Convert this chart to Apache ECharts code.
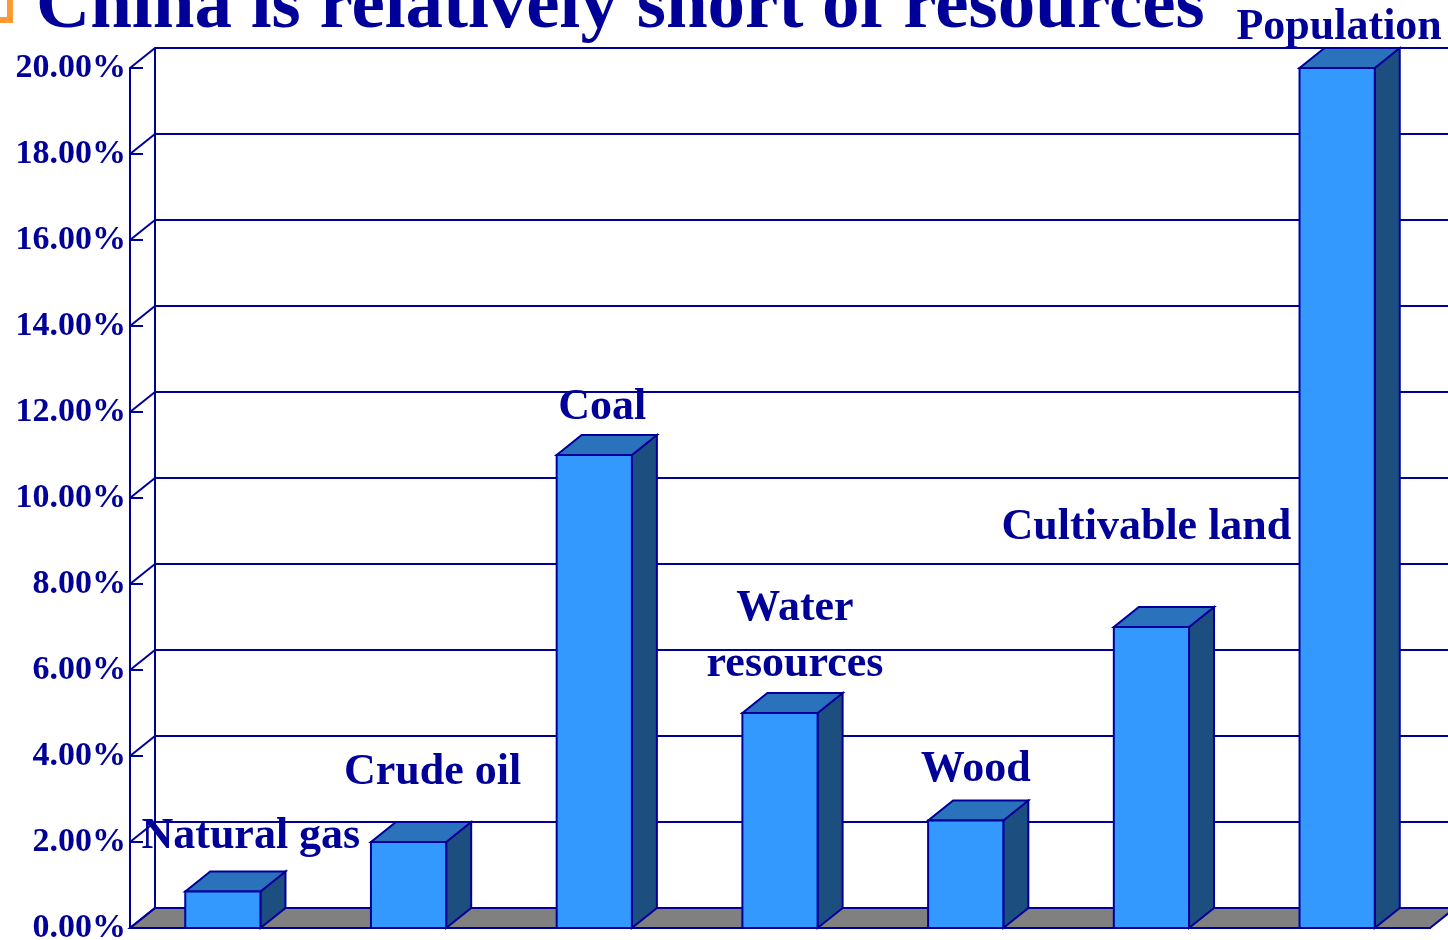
<!DOCTYPE html>
<html>
<head>
<meta charset="utf-8">
<title>China is relatively short of resources</title>
<script src="https://cdn.jsdelivr.net/npm/echarts@6/dist/echarts.min.js"></script>
<style>
  html, body { margin: 0; padding: 0; background: #fff; }
  #chart { width: 1448px; height: 940px; }
</style>
</head>
<body>
<div id="chart"></div>
<script>
// China's share of the world total, in percent
var categories = ['Natural gas', 'Crude oil', 'Coal', 'Water\nresources', 'Wood', 'Cultivable land', 'Population'];
var shares = [0.85, 2.0, 11.0, 5.0, 2.5, 7.0, 20.0];
var yTickValues = [0, 2, 4, 6, 8, 10, 12, 14, 16, 18, 20];

// where each category name sits: [x shift, baseline of last line] relative to the bar top
var labelNudge = [[28, -41], [24, -56], [8, -34], [15, -35], [10, -37], [-5, -86], [2, -27]];

var NAVY = '#000099';
var SERIF = '"Liberation Serif", "Times New Roman", serif';
var DX = 25, DY = -20;          // 3d depth offset
var BAR_RATIO = 0.405;
var LABEL_SIZE = 44, LABEL_LINE = 56;

var chart = echarts.init(document.getElementById('chart'));

function renderFloor(params, api) {
    var cs = params.coordSys;
    var y = api.coord([0, 0])[1];
    var x0 = cs.x, x1 = cs.x + cs.width;
    return {
        type: 'polygon',
        shape: { points: [[x0, y], [x1, y], [x1 + DX, y + DY], [x0 + DX, y + DY]] },
        style: { fill: '#808080', stroke: NAVY, lineWidth: 2 }
    };
}

function renderWallTick(params, api) {
    var cs = params.coordSys;
    var y = api.coord([0, api.value(0)])[1];
    return {
        type: 'line',
        shape: { x1: cs.x, y1: y, x2: cs.x + DX, y2: y + DY },
        style: { stroke: NAVY, lineWidth: 2 }
    };
}

function renderBar(params, api) {
    var idx = api.value(0);
    var base = api.coord([idx, 0]);
    var top = api.coord([idx, api.value(1)]);
    var bw = api.size([1, 0])[0] * BAR_RATIO;
    var x0 = base[0] - bw / 2, x1 = base[0] + bw / 2;
    var y0 = base[1], y1 = top[1];
    var name = categories[idx];
    var lines = name.split('\n').length;
    var nudge = labelNudge[idx];
    var ty = y1 + nudge[1] - 0.305 * LABEL_SIZE - (lines - 1) * LABEL_LINE / 2;
    return {
        type: 'group',
        children: [
            {
                type: 'polygon',
                shape: { points: [[x1, y1], [x1 + DX, y1 + DY], [x1 + DX, y0 + DY], [x1, y0]] },
                style: { fill: '#1d4e80', stroke: NAVY, lineWidth: 2 }
            },
            {
                type: 'polygon',
                shape: { points: [[x0, y1], [x0 + DX, y1 + DY], [x1 + DX, y1 + DY], [x1, y1]] },
                style: { fill: '#2a72bb', stroke: NAVY, lineWidth: 2 }
            },
            {
                type: 'rect',
                shape: { x: x0, y: y1, width: bw, height: y0 - y1 },
                style: { fill: '#3399ff', stroke: NAVY, lineWidth: 2 }
            },
            {
                type: 'text',
                style: {
                    x: base[0] + nudge[0], y: ty,
                    text: name,
                    align: 'center', verticalAlign: 'middle',
                    fontSize: LABEL_SIZE, fontWeight: 'bold', fontFamily: SERIF,
                    lineHeight: LABEL_LINE,
                    fill: NAVY
                }
            }
        ]
    };
}

var option = {
    backgroundColor: '#fff',
    animation: false,
    title: {
        text: 'China is relatively short of resources',
        left: 31,
        top: -35,
        textStyle: { fontSize: 75, fontWeight: 'bold', fontFamily: SERIF, color: NAVY }
    },
    graphic: [{
        type: 'rect',
        shape: { x: -20, y: -20, width: 30, height: 40 },
        style: { fill: 'none', stroke: '#ff9933', lineWidth: 6 }
    }],
    grid: [
        // front plane
        { left: 130, right: 18, top: 68, bottom: 12, outerBoundsMode: 'none' },
        // back wall
        { left: 155, right: 0, top: 48, bottom: 32, outerBoundsMode: 'none' }
    ],
    xAxis: [
        {
            gridIndex: 0, type: 'category', data: categories, z: 3,
            axisLine: { lineStyle: { color: NAVY, width: 2 } },
            axisTick: { inside: true, length: 11, lineStyle: { color: NAVY, width: 2 } },
            axisLabel: { show: false }
        },
        {
            gridIndex: 1, type: 'category', data: categories, show: false
        }
    ],
    yAxis: [
        {
            gridIndex: 0, type: 'value', min: 0, max: 20, interval: 2, z: 3,
            axisLine: { show: true, lineStyle: { color: NAVY, width: 2 } },
            axisTick: { show: true, inside: true, length: 13, lineStyle: { color: NAVY, width: 2 } },
            splitLine: { show: false },
            axisLabel: {
                margin: 4,
                formatter: function (v) { return v.toFixed(2) + '%'; },
                fontSize: 34, fontWeight: 'bold', fontFamily: SERIF, color: NAVY
            }
        },
        {
            gridIndex: 1, type: 'value', min: 0, max: 20, interval: 2,
            axisLine: { show: true, lineStyle: { color: NAVY, width: 2 } },
            axisTick: { show: false },
            axisLabel: { show: false },
            splitLine: { show: true, lineStyle: { color: NAVY, width: 2 } }
        }
    ],
    series: [
        {
            type: 'custom', xAxisIndex: 0, yAxisIndex: 0, silent: true,
            renderItem: renderFloor,
            data: [[0]]
        },
        {
            type: 'custom', xAxisIndex: 0, yAxisIndex: 0, silent: true,
            renderItem: renderWallTick,
            encode: { y: 0 },
            data: yTickValues.map(function (v) { return [v]; })
        },
        {
            type: 'custom', xAxisIndex: 0, yAxisIndex: 0,
            renderItem: renderBar,
            encode: { x: 0, y: 1 },
            data: shares.map(function (v, i) { return [i, v]; }),
            z: 4
        }
    ]
};

chart.setOption(option);
</script>
</body>
</html>
